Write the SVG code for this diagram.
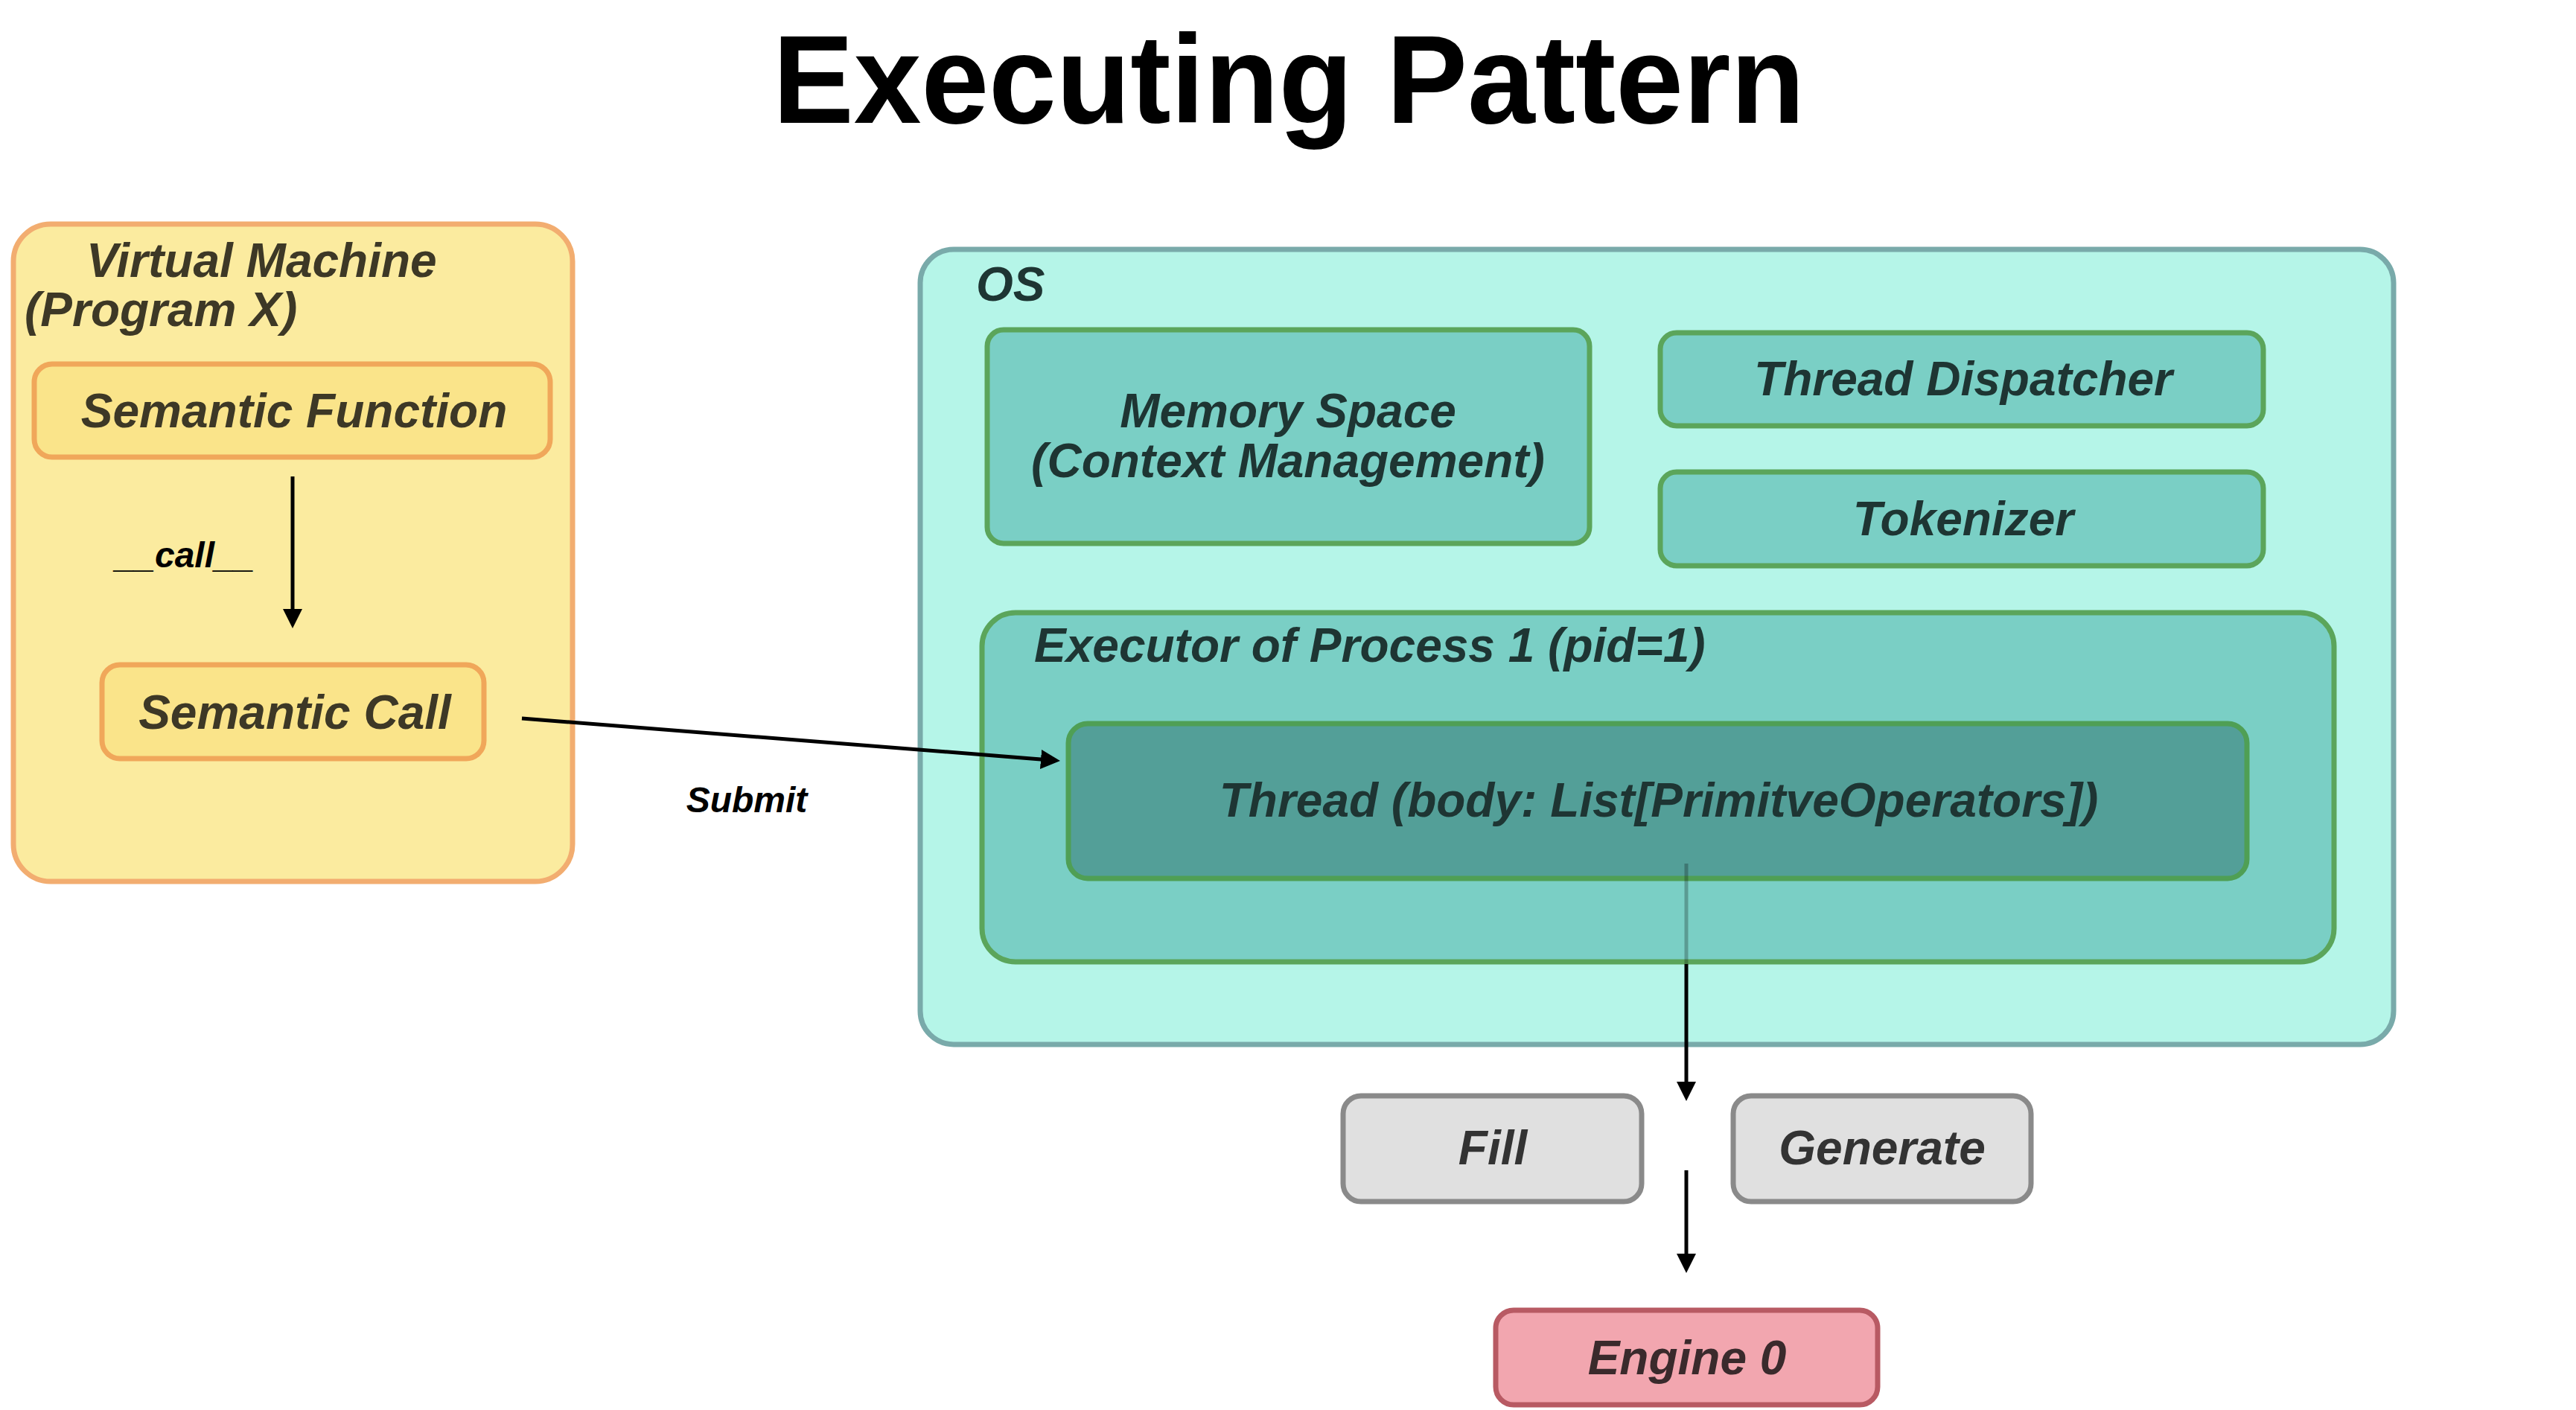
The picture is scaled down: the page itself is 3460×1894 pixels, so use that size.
<svg xmlns="http://www.w3.org/2000/svg" width="3460" height="1894" viewBox="0 0 3460 1894">
  <defs>
    <style>
      .lbl { font-family: "Liberation Sans", Arial, sans-serif; font-weight: bold; font-style: italic; font-size: 64px; }
      .mid { text-anchor: middle; }
      .vm { fill: #FBEB9F; stroke: #F2AD70; stroke-width: 7; }
      .sem { fill: #FAE48A; stroke: #F0A75A; stroke-width: 7; }
      .vmtxt { fill: #3D3826; }
      .os { fill: #B5F5E8; stroke: #79AAAA; stroke-width: 7; }
      .teal { fill: #7ACFC5; stroke: #5BA55B; stroke-width: 7; }
      .thread { fill: #539F98; stroke: #4F9F55; stroke-width: 7; }
      .ttxt { fill: #1E3533; }
      .gray { fill: #E0E0E0; stroke: #8A8A8A; stroke-width: 7; }
      .gtxt { fill: #333333; }
      .eng { fill: #F2A6AF; stroke: #B85A63; stroke-width: 7; }
      .etxt { fill: #3A2A2C; }
      .edge { fill: none; stroke: #000; stroke-width: 5; }
      .elbl { font-family: "Liberation Sans", Arial, sans-serif; font-weight: bold; font-style: italic; font-size: 48px; fill: #000; }
    </style>
    <marker id="arrow" viewBox="0 0 26 26" refX="6" refY="13" markerWidth="26" markerHeight="26" markerUnits="userSpaceOnUse" orient="auto">
      <path d="M0,0 L26,13 L0,26 z" fill="#000"/>
    </marker>
  </defs>

  <rect width="3460" height="1894" fill="#FFFFFF"/>

  <text id="title" x="1731" y="165" text-anchor="middle" font-family="'Liberation Sans', Arial, sans-serif" font-weight="bold" font-size="168" fill="#000" textLength="1386" lengthAdjust="spacingAndGlyphs">Executing Pattern</text>

  <g id="vm">
    <rect class="vm" x="18" y="301" width="751" height="883" rx="50"/>
    <text class="lbl vmtxt" x="116" y="372">Virtual Machine</text>
    <text class="lbl vmtxt" x="33" y="438">(Program X)</text>
  </g>
  <g id="semantic-function">
    <rect class="sem" x="46" y="489" width="693" height="125" rx="24"/>
    <text class="lbl vmtxt mid" x="395" y="574">Semantic Function</text>
  </g>
  <g id="semantic-call">
    <rect class="sem" x="137" y="893" width="513" height="126" rx="24"/>
    <text class="lbl vmtxt mid" x="396" y="979">Semantic Call</text>
  </g>

  <g id="os">
    <rect class="os" x="1236" y="335" width="1979" height="1068" rx="45"/>
    <text class="lbl ttxt" x="1311" y="404">OS</text>
  </g>
  <g id="memory-space">
    <rect class="teal" x="1326" y="443" width="809" height="287" rx="22"/>
    <text class="lbl ttxt mid" x="1730" y="574">Memory Space</text>
    <text class="lbl ttxt mid" x="1730" y="641">(Context Management)</text>
  </g>
  <g id="thread-dispatcher">
    <rect class="teal" x="2230" y="447" width="810" height="125" rx="22"/>
    <text class="lbl ttxt mid" x="2637" y="531">Thread Dispatcher</text>
  </g>
  <g id="tokenizer">
    <rect class="teal" x="2230" y="634" width="810" height="126" rx="22"/>
    <text class="lbl ttxt mid" x="2637" y="719">Tokenizer</text>
  </g>
  <g id="executor">
    <rect class="teal" x="1319" y="823" width="1816" height="469" rx="45"/>
    <text class="lbl ttxt" x="1389" y="889">Executor of Process 1 (pid=1)</text>
  </g>
  <g id="thread">
    <rect class="thread" x="1435" y="972" width="1583" height="208" rx="26"/>
    <text class="lbl ttxt mid" x="2228" y="1097">Thread (body: List[PrimitveOperators])</text>
  </g>

  <g id="fill">
    <rect class="gray" x="1804" y="1472" width="401" height="142" rx="24"/>
    <text class="lbl gtxt mid" x="2005" y="1564">Fill</text>
  </g>
  <g id="generate">
    <rect class="gray" x="2328" y="1472" width="400" height="142" rx="24"/>
    <text class="lbl gtxt mid" x="2528" y="1564">Generate</text>
  </g>
  <g id="engine">
    <rect class="eng" x="2009" y="1760" width="513" height="127" rx="24"/>
    <text class="lbl etxt mid" x="2266" y="1846">Engine 0</text>
  </g>

  <g id="connectors">
    <path class="edge" d="M393,640 L393,824" marker-end="url(#arrow)"/>
    <text class="elbl mid" x="248" y="762">__call__</text>
    <path class="edge" d="M701,965 L1404,1020.4" marker-end="url(#arrow)"/>
    <text class="elbl mid" x="1003" y="1091">Submit</text>
    <path class="edge" d="M2265,1160 L2265,1295" stroke-opacity="0.25"/>
    <path class="edge" d="M2265,1295 L2265,1459" marker-end="url(#arrow)"/>
    <path class="edge" d="M2265,1572 L2265,1690" marker-end="url(#arrow)"/>
  </g>
</svg>
